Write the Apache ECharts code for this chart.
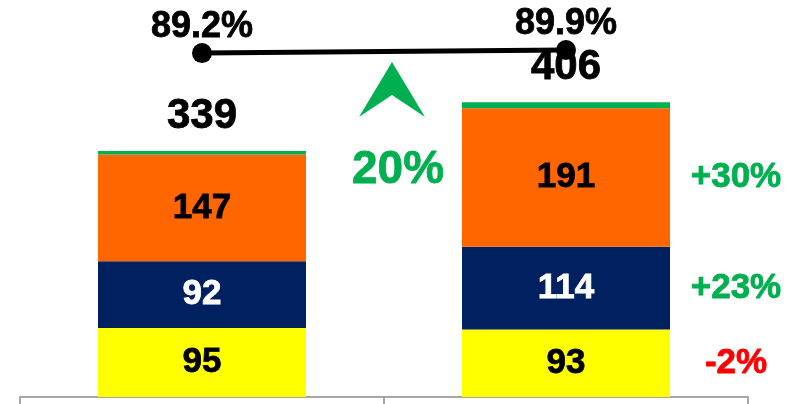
<!DOCTYPE html>
<html>
<head>
<meta charset="utf-8">
<script src="https://cdn.jsdelivr.net/npm/echarts@6/dist/echarts.min.js"></script>
<style>
  html, body { margin: 0; padding: 0; background: #fff; }
  #main { width: 798px; height: 404px; }
</style>
</head>
<body>
<div id="main"></div>
<script>
  // data
  var categories = ['Period 1', 'Period 2'];
  var yellowVals = [95, 93];
  var navyVals = [92, 114];
  var orangeVals = [147, 191];
  var greenVals = [5, 8];
  var totals = [339, 406];
  var ratioVals = [89.2, 89.9];
  // change of each segment, second bar vs first (bottom to top)
  var changeLabels = ['-2%', '+23%', '+30%'];
  var changeColors = ['#FF0000', '#00B050', '#00B050'];
  var totalChange = '20%';

  var font = '"Liberation Sans", Arial, sans-serif';

  // middle of each segment of the second bar, for the change notes
  var mids = [
    yellowVals[1] / 2,
    yellowVals[1] + navyVals[1] / 2,
    yellowVals[1] + navyVals[1] + orangeVals[1] / 2
  ];
  var changeData = mids.map(function (m, i) {
    return {
      value: [1, m],
      label: {
        formatter: changeLabels[i], color: changeColors[i],
        textBorderColor: changeColors[i], textBorderWidth: 0.8
      }
    };
  });

  function segLabel(color) {
    return {
      show: true,
      position: 'inside',
      color: color,
      textBorderColor: color,
      textBorderWidth: 0.8,
      fontFamily: font,
      fontWeight: 'bold',
      fontSize: 35
    };
  }

  var myChart = echarts.init(document.getElementById('main'));
  var option = {
    animation: false,
    grid: { left: 20, right: 50, top: 0, bottom: 7 },
    xAxis: {
      type: 'category',
      data: categories,
      axisLine: { lineStyle: { color: '#A6A6A6', width: 2 } },
      axisTick: { show: true, length: 10, lineStyle: { color: '#A6A6A6', width: 2 } },
      axisLabel: { show: false }
    },
    yAxis: [
      { type: 'value', min: 0, max: 547, show: false },
      { type: 'value', min: 9.5, max: 101.5, show: false }
    ],
    series: [
      {
        name: 'yellow', type: 'bar', stack: 'a', barWidth: 208,
        data: yellowVals, itemStyle: { color: '#FFFF00' },
        label: segLabel('#000')
      },
      {
        name: 'navy', type: 'bar', stack: 'a',
        data: navyVals, itemStyle: { color: '#002060' },
        label: segLabel('#fff')
      },
      {
        name: 'orange', type: 'bar', stack: 'a',
        data: orangeVals, itemStyle: { color: '#FF6600' },
        label: segLabel('#000')
      },
      {
        name: 'green', type: 'bar', stack: 'a',
        data: greenVals, itemStyle: { color: '#00B050' },
        label: {
          show: true, position: 'top', distance: 14,
          formatter: function (p) { return totals[p.dataIndex]; },
          color: '#000', textBorderColor: '#000', textBorderWidth: 0.8,
          fontFamily: font, fontWeight: 'bold', fontSize: 42
        }
      },
      {
        name: 'ratio', type: 'line', yAxisIndex: 1, z: 10,
        data: ratioVals,
        symbol: 'circle', symbolSize: 20,
        lineStyle: { color: '#000', width: 5 },
        itemStyle: { color: '#000' },
        label: {
          show: true, position: 'top', distance: -2,
          formatter: function (p) { return p.value.toFixed(1) + '%'; },
          color: '#000', textBorderColor: '#000', textBorderWidth: 0.8,
          fontFamily: font, fontWeight: 'bold', fontSize: 36
        }
      },
      {
        name: 'change', type: 'scatter', symbolSize: 0,
        data: changeData,
        itemStyle: { opacity: 1 },
        label: {
          show: true, position: 'inside', offset: [170, 0],
          fontFamily: font, fontWeight: 'bold', fontSize: 35
        }
      }
    ],
    graphic: [
      {
        type: 'polygon',
        shape: { points: [[392, 62], [425, 117], [392, 95], [359, 117]] },
        style: { fill: '#00B050' }
      },
      {
        type: 'text',
        x: 398, y: 170,
        style: {
          text: totalChange, fill: '#00B050',
          stroke: '#00B050', lineWidth: 0.8,
          font: 'bold 46px "Liberation Sans", Arial, sans-serif',
          textAlign: 'center', textVerticalAlign: 'middle'
        }
      }
    ]
  };
  myChart.setOption(option);
</script>
</body>
</html>
